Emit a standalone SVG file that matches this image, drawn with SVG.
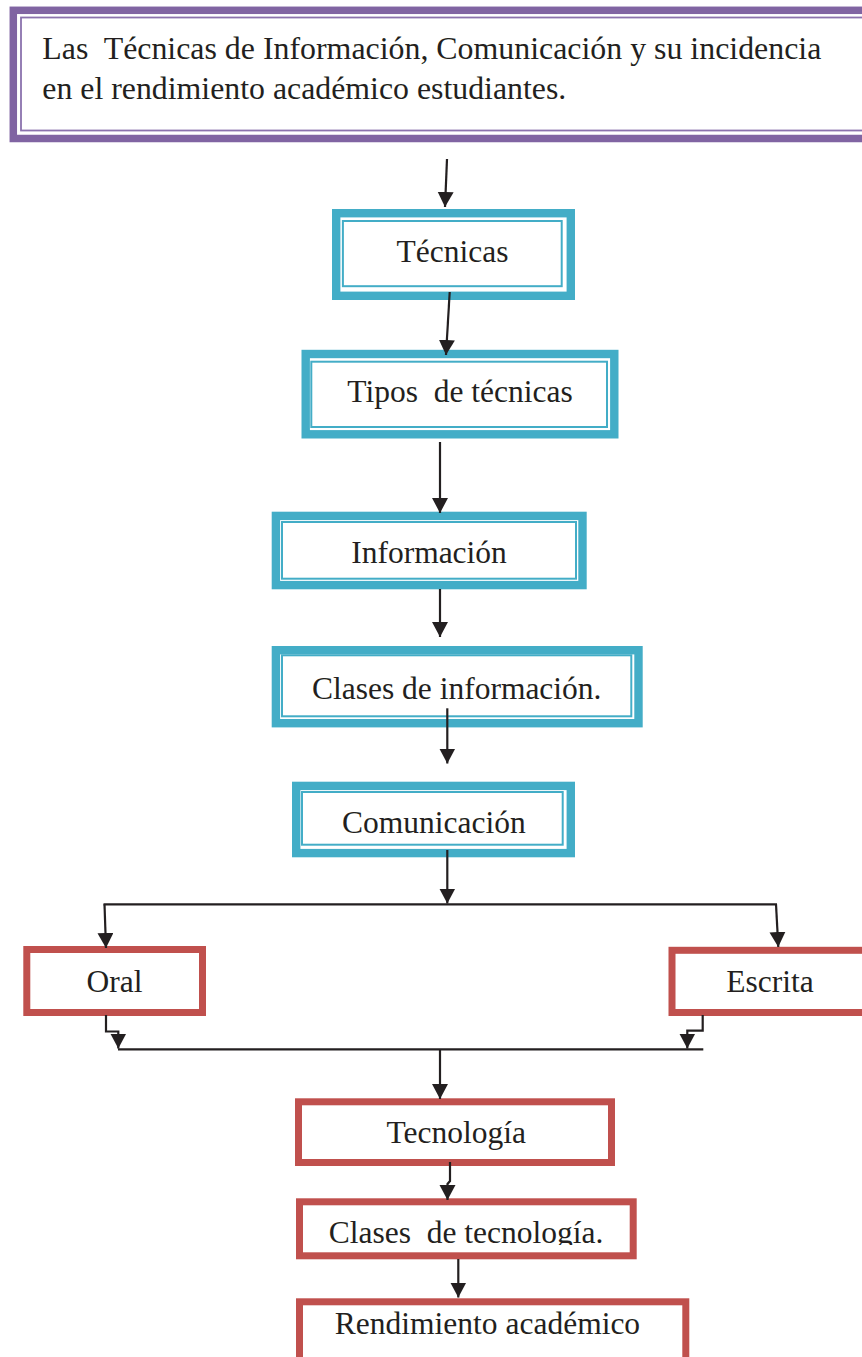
<svg xmlns="http://www.w3.org/2000/svg" width="862" height="1357" viewBox="0 0 862 1357">
<style>
text{font-family:"Liberation Serif","Times New Roman",serif;font-size:31.5px;fill:#231F20}
.c{text-anchor:middle}
.pT{fill:#fff;stroke:#8064A2;stroke-width:7.5}
.pt{fill:none;stroke:#8B72AD;stroke-width:1.8}
.tT{fill:#fff;stroke:#43ADC7;stroke-width:8.4}
.tt{fill:none;stroke:#43ADC7;stroke-width:2}
.r{fill:#fff;stroke:#C0504D;stroke-width:7}
.ln{fill:none;stroke:#231F20;stroke-width:2.2}
.ar{fill:none;stroke:#231F20;stroke-width:2.2;marker-end:url(#ah)}
</style>
<defs>
<marker id="ah" markerUnits="userSpaceOnUse" markerWidth="16" markerHeight="17" refX="15" refY="8" orient="auto" viewBox="0 0 16 17">
<path d="M0,0 L15,8 L0,16 Z" fill="#231F20"/>
</marker>
<clipPath id="clipCT"><rect x="290" y="1190" width="360" height="55"/></clipPath>
</defs>
<rect width="862" height="1357" fill="#fff"/>

<g id="title">
<rect class="pT" x="13.3" y="10.3" width="880" height="128.2"/>
<rect class="pt" x="21" y="17.5" width="870" height="113"/>
<text x="42.3" y="59" xml:space="preserve" textLength="779" lengthAdjust="spacingAndGlyphs">Las  Técnicas de Información, Comunicación y su incidencia</text>
<text x="42.3" y="99" textLength="524" lengthAdjust="spacingAndGlyphs">en el rendimiento académico estudiantes.</text>
</g>

<g id="tecnicas">
<rect class="tT" x="336.2" y="213.2" width="234.6" height="82.6"/>
<rect class="tt" x="342.9" y="221" width="218.8" height="65.2"/>
<text class="c" x="452.5" y="262">Técnicas</text>
</g>

<g id="tipos">
<rect class="tT" x="305.7" y="354" width="308.6" height="80.3"/>
<rect class="tt" x="311.3" y="361.7" width="295.7" height="65.3"/>
<text class="c" x="460" y="402" xml:space="preserve">Tipos  de técnicas</text>
</g>

<g id="informacion">
<rect class="tT" x="275.9" y="515.9" width="306.6" height="69.2"/>
<rect class="tt" x="282" y="522" width="294" height="56.7"/>
<text class="c" x="429" y="563.3">Información</text>
</g>

<g id="clases-informacion">
<rect class="tT" x="275.9" y="650.2" width="362.6" height="73"/>
<rect class="tt" x="282" y="655.3" width="349.3" height="61"/>
<text class="c" x="456.7" y="699.3">Clases de información.</text>
</g>

<g id="comunicacion">
<rect class="tT" x="296.2" y="785.9" width="274.6" height="67.2"/>
<rect class="tt" x="302" y="792" width="260.7" height="52.7"/>
<text class="c" x="433.8" y="833.3">Comunicación</text>
</g>

<g id="oral">
<rect class="r" x="26.8" y="949.5" width="175.7" height="63"/>
<text class="c" x="114.5" y="991.7">Oral</text>
</g>

<g id="escrita">
<rect class="r" x="672" y="950.3" width="220" height="62.2"/>
<text class="c" x="770" y="991.7">Escrita</text>
</g>

<g id="tecnologia">
<rect class="r" x="298.5" y="1101.8" width="313" height="60.7"/>
<text class="c" x="456.3" y="1143.3">Tecnología</text>
</g>

<g id="clases-tecnologia">
<rect class="r" x="299.5" y="1201.8" width="333.7" height="54"/>
<text class="c" x="466" y="1243.3" xml:space="preserve" clip-path="url(#clipCT)">Clases  de tecnología.</text>
</g>

<g id="rendimiento">
<rect class="r" x="299.5" y="1301.8" width="386.3" height="100"/>
<text class="c" x="487.5" y="1334">Rendimiento académico</text>
</g>

<g id="connectors">
<line class="ar" x1="447" y1="159" x2="445" y2="207"/>
<line class="ar" x1="449.7" y1="292" x2="446" y2="355"/>
<line class="ar" x1="440" y1="442" x2="440" y2="513"/>
<line class="ar" x1="440" y1="589" x2="440" y2="637"/>
<line class="ar" x1="447.3" y1="708.3" x2="447.3" y2="763.5"/>
<line class="ar" x1="447.3" y1="850" x2="447.3" y2="903.5"/>
<line class="ln" x1="103.5" y1="904.3" x2="777" y2="904.3"/>
<line class="ar" x1="104.5" y1="904.3" x2="106" y2="948"/>
<line class="ar" x1="776" y1="904.3" x2="778.3" y2="947"/>
<path class="ar" d="M106,1015 V1031.5 H118.3 V1048.5"/>
<path class="ar" d="M702.7,1015 V1030.7 H687.3 V1048.5"/>
<line class="ln" x1="118" y1="1049.3" x2="703.3" y2="1049.3"/>
<line class="ar" x1="440" y1="1050" x2="440" y2="1099"/>
<path class="ar" d="M450,1162 V1181 L447.5,1184 V1200"/>
<line class="ar" x1="458.3" y1="1259" x2="458.3" y2="1297.5"/>
</g>
</svg>
